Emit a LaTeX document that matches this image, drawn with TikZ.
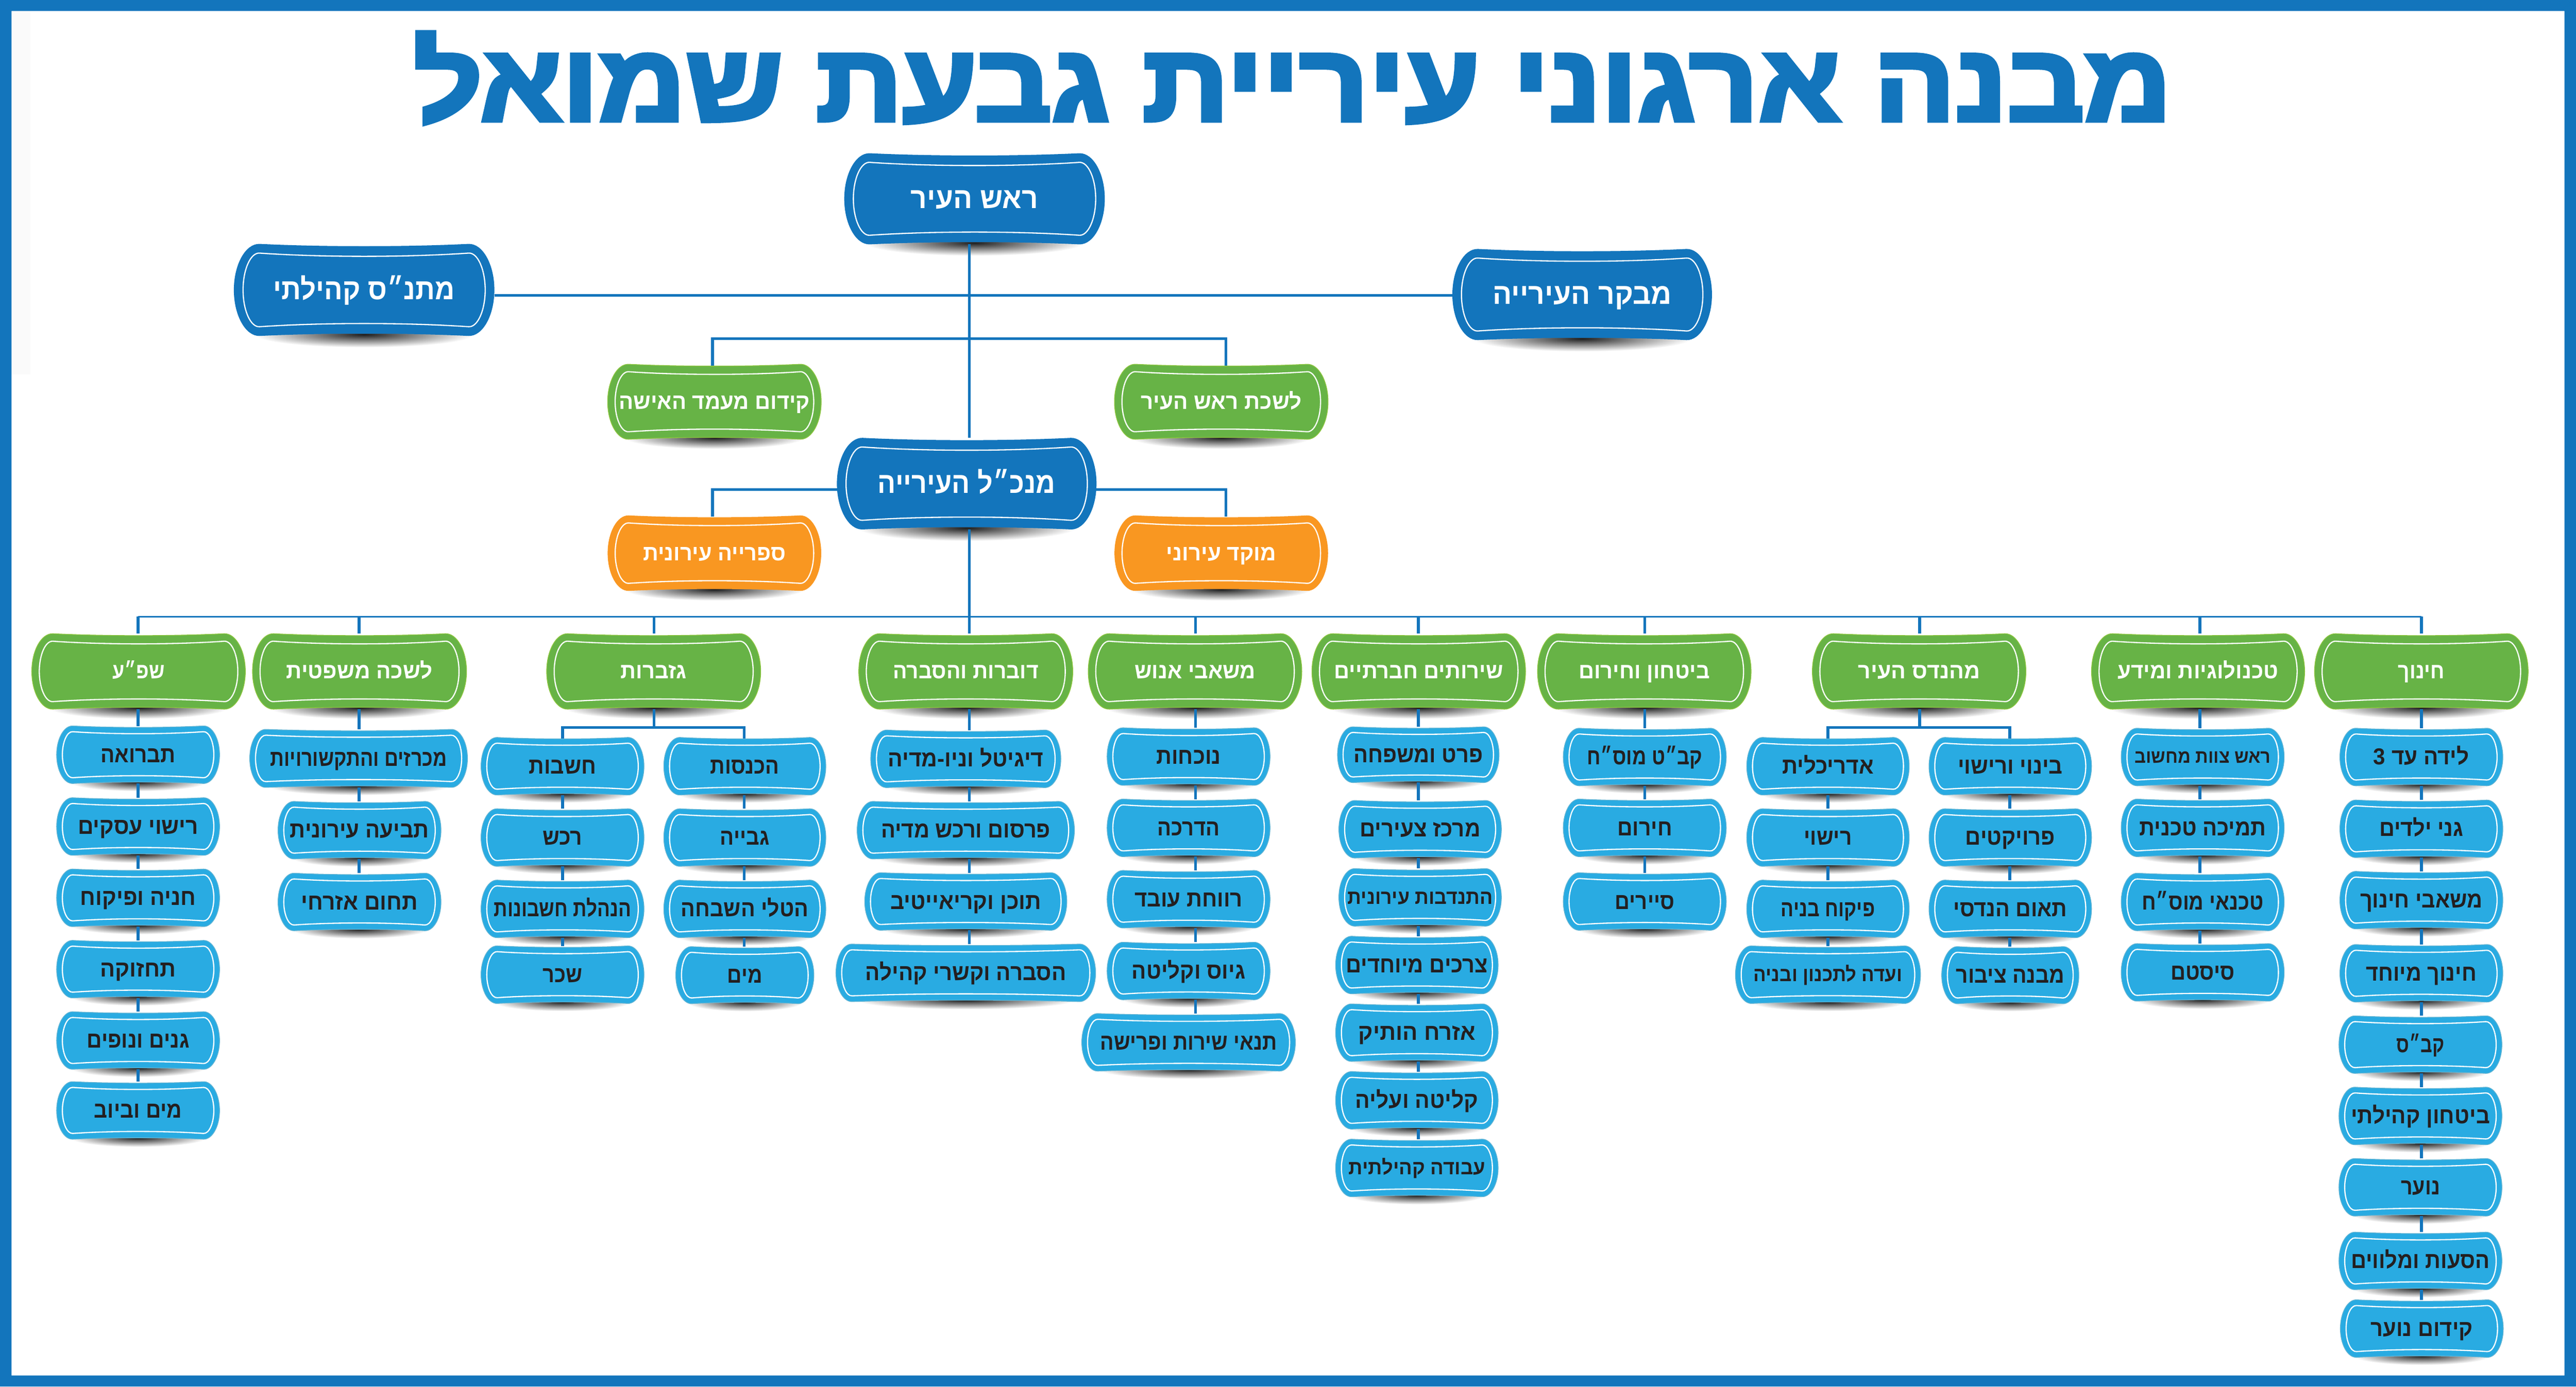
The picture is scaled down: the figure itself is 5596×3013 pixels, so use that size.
\documentclass[tikz,border=0pt]{standalone}
\usepackage{fontspec}
\usepackage{graphicx}
\TeXXeTstate=1
\newfontfamily\titlefont[Script=Hebrew,BoldFeatures={FakeBold=4}]{Liberation Sans}
\newfontfamily\hebbold[Script=Hebrew]{Liberation Sans}
\definecolor{dkblue}{HTML}{1375BC}
\definecolor{ltblue}{HTML}{29ABE2}
\definecolor{ltedge}{HTML}{5FB3D3}
\definecolor{grfill}{HTML}{67B346}
\definecolor{gredge}{HTML}{8DC63F}
\definecolor{orfill}{HTML}{F99721}
\definecolor{inkdark}{HTML}{231F20}
\definecolor{ghost}{HTML}{FAFAFA}
\pgfdeclarelayer{sh}
\pgfdeclarelayer{conn}
\pgfsetlayers{sh,conn,main}
\newsavebox\pilltextbox
\def\fsdk{64}\def\fsgr{48}\def\fsor{48}\def\fslt{50}
\tikzset{
  dk shape/.style={fill=dkblue},
  gr shape/.style={fill=grfill,draw=gredge,line width=1.5pt},
  or shape/.style={fill=orfill},
  lt shape/.style={fill=ltblue,draw=ltedge,line width=1.5pt},
  dk text/.style={text=white},
  gr text/.style={text=white},
  or text/.style={text=white},
  lt text/.style={text=inkdark},
  hair/.style={draw=white,line width=2.6pt},
  pillnode/.style={inner sep=0pt,outer sep=0pt,align=center},
  stem/.style={draw=dkblue,line width=6pt},
  bus/.style={draw=dkblue,line width=4pt},
  joint/.style={draw=dkblue,line width=6pt,line cap=rect},
}
% outline of a pill: half width, half height, corner offset, sag
\newcommand\pilloutline[4]{%
  (-#1+#3,-#2)
  .. controls (-0.4*#1+0.4*#3,-#2+#4*1.33) and (0.4*#1-0.4*#3,-#2+#4*1.33) .. (#1-#3,-#2)
  .. controls (#1-0.45*#3,-#2-0.2*#4) and (#1,-0.55*#2) .. (#1,0)
  .. controls (#1,0.55*#2) and (#1-0.45*#3,#2+0.2*#4) .. (#1-#3,#2)
  .. controls (0.4*#1-0.4*#3,#2-#4*1.33) and (-0.4*#1+0.4*#3,#2-#4*1.33) .. (-#1+#3,#2)
  .. controls (-#1+0.45*#3,#2+0.2*#4) and (-#1,0.55*#2) .. (-#1,0)
  .. controls (-#1,-0.55*#2) and (-#1+0.45*#3,-#2-0.2*#4) .. cycle}
% [size factor]{name}{cx}{cy}{W}{H}{kind}{text width}{text}
\newcommand\pill[9][1]{%
  \pgfmathsetmacro\pa{#5/2}\pgfmathsetmacro\pb{#6/2}%
  \pgfmathsetmacro\pc{0.28*#6}\pgfmathsetmacro\ps{0.025*#6}%
  \pgfmathsetmacro\pd{0.1*#6}%
  \pgfmathsetmacro\qa{\pa-\pd}\pgfmathsetmacro\qb{\pb-\pd}%
  \pgfmathsetmacro\qc{\pc-\pd}\pgfmathsetmacro\qs{0.035*#6}%
  \pgfmathsetmacro\sy{#4+\pb-3}\pgfmathsetmacro\sx{0.42*#5}\pgfmathsetmacro\sr{0.11*#6+6}%
  \begin{pgfonlayer}{sh}
    \shade[inner color=black!88,outer color=white] (#3,\sy) ellipse[x radius=\sx,y radius=\sr];
  \end{pgfonlayer}
  \begin{scope}[shift={(#3,#4)}]
    \path[#7 shape] \pilloutline{\pa}{\pb}{\pc}{\ps};
    \path[hair] \pilloutline{\qa}{\qb}{\qc}{\qs};
  \end{scope}
  \pgfmathsetmacro\pfs{#1*\csname fs#7\endcsname}%
  \node[pillnode,#7 text,minimum width=#5 pt,minimum height=#6 pt] (#2) at (#3,#4)
    {\fontsize{\pfs pt}{\pfs pt}\selectfont\hebbold\bfseries
     \sbox\pilltextbox{#9}%
     \pgfmathsetmacro\pfx{#8/\the\wd\pilltextbox}%
     \raisebox{-0.33\dimexpr\pfs pt\relax}[0pt][0pt]{\scalebox{\pfx}[1]{\usebox\pilltextbox}}};
}
\begin{document}
\begin{tikzpicture}[x=1pt,y=-1pt]
\useasboundingbox (0,0) rectangle (5596,3013);
\fill[ghost] (25,24) rectangle (66,814);
\fill[dkblue,even odd rule] (0,0) rectangle (5596,3013) (25,24) rectangle (5571,2989);
% title
\node[inner sep=0pt,anchor=base,text=dkblue] (title) at (2808,262)
  {\fontsize{236pt}{236pt}\selectfont\titlefont\bfseries
   \sbox\pilltextbox{\beginR מבנה ארגוני עיריית גבעת שמואל\endR}%
   \pgfmathsetmacro\tfx{3819/\the\wd\pilltextbox}%
   \scalebox{\tfx}[1]{\usebox\pilltextbox}};
% top
\pill{mayor}{2117}{432}{566}{198}{dk}{277}{\beginR ראש העיר\endR}
\pill{matnas}{791}{630}{566}{200}{dk}{394}{\beginR מתנ״ס קהילתי\endR}
\pill{auditor}{3437}{640}{564}{198}{dk}{389}{\beginR מבקר העירייה\endR}
\pill{women}{1552}{873}{464}{163}{gr}{415}{\beginR קידום מעמד האישה\endR}
\pill{office}{2653}{873}{464}{163}{gr}{350}{\beginR לשכת ראש העיר\endR}
\pill{ceo}{2100}{1051}{564}{199}{dk}{386}{\beginR מנכ״ל העירייה\endR}
\pill{library}{1552}{1202}{464}{164}{or}{310}{\beginR ספרייה עירונית\endR}
\pill{hotline}{2653}{1202}{464}{164}{or}{239}{\beginR מוקד עירוני\endR}
% departments
\pill{shefa}{301}{1459}{464}{164}{gr}{114}{\beginR שפ״ע\endR}
\pill{legal}{781}{1459}{465}{164}{gr}{318}{\beginR לשכה משפטית\endR}
\pill{treasury}{1420}{1459}{465}{164}{gr}{143}{\beginR גזברות\endR}
\pill{spokes}{2098}{1459}{465}{164}{gr}{316}{\beginR דוברות והסברה\endR}
\pill{hr}{2596}{1459}{464}{164}{gr}{263}{\beginR משאבי אנוש\endR}
\pill{social}{3082}{1459}{464}{164}{gr}{367}{\beginR שירותים חברתיים\endR}
\pill{security}{3572}{1459}{464}{164}{gr}{285}{\beginR ביטחון וחירום\endR}
\pill{engineer}{4169}{1459}{464}{164}{gr}{265}{\beginR מהנדס העיר\endR}
\pill{tech}{4775}{1459}{463}{164}{gr}{349}{\beginR טכנולוגיות ומידע\endR}
\pill{edu}{5260}{1459}{464}{164}{gr}{101}{\beginR חינוך\endR}
% shefa column
\pill{sa}{300}{1640}{354}{125}{lt}{163}{\beginR תברואה\endR}
\pill{sb}{300}{1796}{354}{125}{lt}{262}{\beginR רישוי עסקים\endR}
\pill{sc}{300}{1951}{354}{125}{lt}{251}{\beginR חניה ופיקוח\endR}
\pill{sd}{300}{2106}{354}{125}{lt}{165}{\beginR תחזוקה\endR}
\pill{se}{300}{2261}{354}{125}{lt}{223}{\beginR גנים ונופים\endR}
\pill{sf}{300}{2413}{354}{125}{lt}{191}{\beginR מים וביוב\endR}
% legal column
\pill{la}{779}{1648}{473}{126}{lt}{384}{\beginR מכרזים והתקשורויות\endR}
\pill{lb}{781}{1804}{354}{125}{lt}{302}{\beginR תביעה עירונית\endR}
\pill{lc}{781}{1960}{354}{125}{lt}{253}{\beginR תחום אזרחי\endR}
% treasury columns
\pill{ta}{1222}{1665}{354}{125}{lt}{146}{\beginR חשבות\endR}
\pill{tb}{1222}{1820}{354}{125}{lt}{86}{\beginR רכש\endR}
\pill{tc}{1222}{1975}{354}{125}{lt}{298}{\beginR הנהלת חשבונות\endR}
\pill{td}{1222}{2118}{354}{125}{lt}{86}{\beginR שכר\endR}
\pill{ua}{1618}{1665}{352}{125}{lt}{150}{\beginR הכנסות\endR}
\pill{ub}{1618}{1820}{352}{125}{lt}{107}{\beginR גבייה\endR}
\pill{uc}{1618}{1975}{352}{125}{lt}{277}{\beginR הטלי השבחה\endR}
\pill{ud}{1618}{2119}{300}{124}{lt}{76}{\beginR מים\endR}
% spokesperson column
\pill{pa}{2098}{1649}{413}{125}{lt}{338}{\beginR דיגיטל וניו-מדיה\endR}
\pill{pb}{2098}{1804}{472}{125}{lt}{368}{\beginR פרסום ורכש מדיה\endR}
\pill{pc}{2098}{1959}{439}{125}{lt}{328}{\beginR תוכן וקריאייטיב\endR}
\pill{pd}{2098}{2114}{564}{125}{lt}{436}{\beginR הסברה וקשרי קהילה\endR}
% hr column
\pill{ha}{2582}{1644}{354}{125}{lt}{140}{\beginR נוכחות\endR}
\pill{hb}{2582}{1799}{354}{125}{lt}{136}{\beginR הדרכה\endR}
\pill{hc}{2582}{1954}{354}{125}{lt}{235}{\beginR רווחת עובד\endR}
\pill{hd}{2582}{2110}{354}{125}{lt}{247}{\beginR גיוס וקליטה\endR}
\pill{he}{2582}{2265}{464}{125}{lt}{384}{\beginR תנאי שירות ופרישה\endR}
% social column
\pill{wa}{3081}{1640}{351}{121}{lt}{281}{\beginR פרט ומשפחה\endR}
\pill{wb}{3085}{1802}{353}{125}{lt}{262}{\beginR מרכז צעירים\endR}
\pill[0.88]{wc}{3085}{1950}{353}{125}{lt}{315}{\beginR התנדבות עירונית\endR}
\pill{wd}{3078}{2097}{353}{125}{lt}{308}{\beginR צרכים מיוחדים\endR}
\pill{we}{3078}{2244}{353}{125}{lt}{254}{\beginR אזרח הותיק\endR}
\pill{wf}{3078}{2391}{353}{125}{lt}{267}{\beginR קליטה ועליה\endR}
\pill[0.88]{wg}{3078}{2538}{353}{125}{lt}{297}{\beginR עבודה קהילתית\endR}
% security column
\pill{ca}{3573}{1645}{354}{125}{lt}{251}{\beginR קב״ט מוס״ח\endR}
\pill{cb}{3573}{1799}{354}{125}{lt}{119}{\beginR חירום\endR}
\pill{cc}{3573}{1959}{354}{125}{lt}{129}{\beginR סיירים\endR}
% engineer columns
\pill{ea}{3971}{1665}{353}{125}{lt}{199}{\beginR אדריכלית\endR}
\pill{eb}{3971}{1820}{353}{125}{lt}{104}{\beginR רישוי\endR}
\pill{ec}{3971}{1975}{353}{125}{lt}{204}{\beginR פיקוח בניה\endR}
\pill[0.88]{ed}{3971}{2118}{402}{125}{lt}{323}{\beginR ועדה לתכנון ובניה\endR}
\pill{fa}{4367}{1665}{353}{125}{lt}{228}{\beginR בינוי ורישוי\endR}
\pill{fb}{4367}{1820}{353}{125}{lt}{195}{\beginR פרויקטים\endR}
\pill{fc}{4367}{1975}{353}{125}{lt}{247}{\beginR תאום הנדסי\endR}
\pill{fd}{4367}{2119}{298}{124}{lt}{236}{\beginR מבנה ציבור\endR}
% tech column
\pill[0.82]{ka}{4785}{1645}{354}{125}{lt}{296}{\beginR ראש צוות מחשוב\endR}
\pill{kb}{4785}{1799}{354}{125}{lt}{275}{\beginR תמיכה טכנית\endR}
\pill{kc}{4785}{1960}{354}{125}{lt}{265}{\beginR טכנאי מוס״ח\endR}
\pill{kd}{4785}{2113}{354}{125}{lt}{139}{\beginR סיסטם\endR}
% education column
\pill{ga}{5260}{1645}{354}{125}{lt}{208}{\beginR לידה עד \beginL 3\endL{}\endR}
\pill{gb}{5260}{1801}{354}{125}{lt}{183}{\beginR גני ילדים\endR}
\pill{gc}{5260}{1956}{354}{125}{lt}{266}{\beginR משאבי חינוך\endR}
\pill{gd}{5260}{2115}{354}{125}{lt}{240}{\beginR חינוך מיוחד\endR}
\pill{ge}{5258}{2270}{354}{125}{lt}{104}{\beginR קב״ס\endR}
\pill{gf}{5258}{2425}{354}{125}{lt}{302}{\beginR ביטחון קהילתי\endR}
\pill{gg}{5258}{2580}{354}{125}{lt}{85}{\beginR נוער\endR}
\pill{gh}{5258}{2740}{354}{125}{lt}{302}{\beginR הסעות ומלווים\endR}
\pill{gi}{5261}{2887}{354}{125}{lt}{222}{\beginR קידום נוער\endR}
% free ends of the connectors
\coordinate (trunk) at (2106,1340);
\coordinate (xw) at (1548,736);
\coordinate (xo) at (2663,736);
\coordinate (yw) at (1548,1064);
\coordinate (yo) at (2663,1064);
\coordinate (lineh) at (2106,642);
\coordinate (bshefa) at (300,1340);
\coordinate (blegal) at (780,1340);
\coordinate (btreas) at (1421,1340);
\coordinate (bhr) at (2597,1340);
\coordinate (bsoc) at (3081,1340);
\coordinate (bsec) at (3573,1340);
\coordinate (beng) at (4170,1340);
\coordinate (btech) at (4779,1340);
\coordinate (bedu) at (5260,1340);
\coordinate (tj) at (1421,1581);
\coordinate (tl) at (1222,1581);
\coordinate (tr) at (1617,1581);
\coordinate (ej) at (4170,1581);
\coordinate (el) at (3971,1581);
\coordinate (er) at (4366,1581);
\begin{pgfonlayer}{conn}
  \draw[stem] (mayor.south -| trunk) -- (ceo.north -| trunk);
  \draw[stem] (matnas.east |- lineh) -- (auditor.west |- lineh);
  \draw[joint] (women.north -| xw) -- (xw) -- (xo) -- (office.north -| xo);
  \draw[joint] (library.north -| yw) -- (yw) -- (ceo.west |- yw);
  \draw[joint] (ceo.east |- yo) -- (yo) -- (hotline.north -| yo);
  \draw[stem] (ceo.south -| trunk) -- (spokes.north -| trunk);
  \draw[bus] (bshefa) -- (bedu);
  \foreach \b/\n in {bshefa/shefa,blegal/legal,btreas/treasury,bhr/hr,bsoc/social,bsec/security,beng/engineer,btech/tech,bedu/edu}
    \draw[stem] (\b) -- (\n.north -| \b);
  \draw[stem] (treasury.south -| tj) -- (tj);
  \draw[joint] (ta.north -| tl) -- (tl) -- (tr) -- (ua.north -| tr);
  \draw[stem] (engineer.south -| ej) -- (ej);
  \draw[joint] (ea.north -| el) -- (el) -- (er) -- (fa.north -| er);
  \foreach \x/\p/\q in {bshefa/shefa/sa,bshefa/sa/sb,bshefa/sb/sc,bshefa/sc/sd,bshefa/sd/se,bshefa/se/sf,
    blegal/legal/la,blegal/la/lb,blegal/lb/lc,
    tl/ta/tb,tl/tb/tc,tl/tc/td,tr/ua/ub,tr/ub/uc,tr/uc/ud,
    trunk/spokes/pa,trunk/pa/pb,trunk/pb/pc,trunk/pc/pd,
    bhr/hr/ha,bhr/ha/hb,bhr/hb/hc,bhr/hc/hd,bhr/hd/he,
    bsoc/social/wa,bsoc/wa/wb,bsoc/wb/wc,bsoc/wc/wd,bsoc/wd/we,bsoc/we/wf,bsoc/wf/wg,
    bsec/security/ca,bsec/ca/cb,bsec/cb/cc,
    el/ea/eb,el/eb/ec,el/ec/ed,er/fa/fb,er/fb/fc,er/fc/fd,
    btech/tech/ka,btech/ka/kb,btech/kb/kc,btech/kc/kd,
    bedu/edu/ga,bedu/ga/gb,bedu/gb/gc,bedu/gc/gd,bedu/gd/ge,bedu/ge/gf,bedu/gf/gg,bedu/gg/gh,bedu/gh/gi}
    \draw[stem] (\p.south -| \x) -- (\q.north -| \x);
\end{pgfonlayer}
\end{tikzpicture}
\end{document}
